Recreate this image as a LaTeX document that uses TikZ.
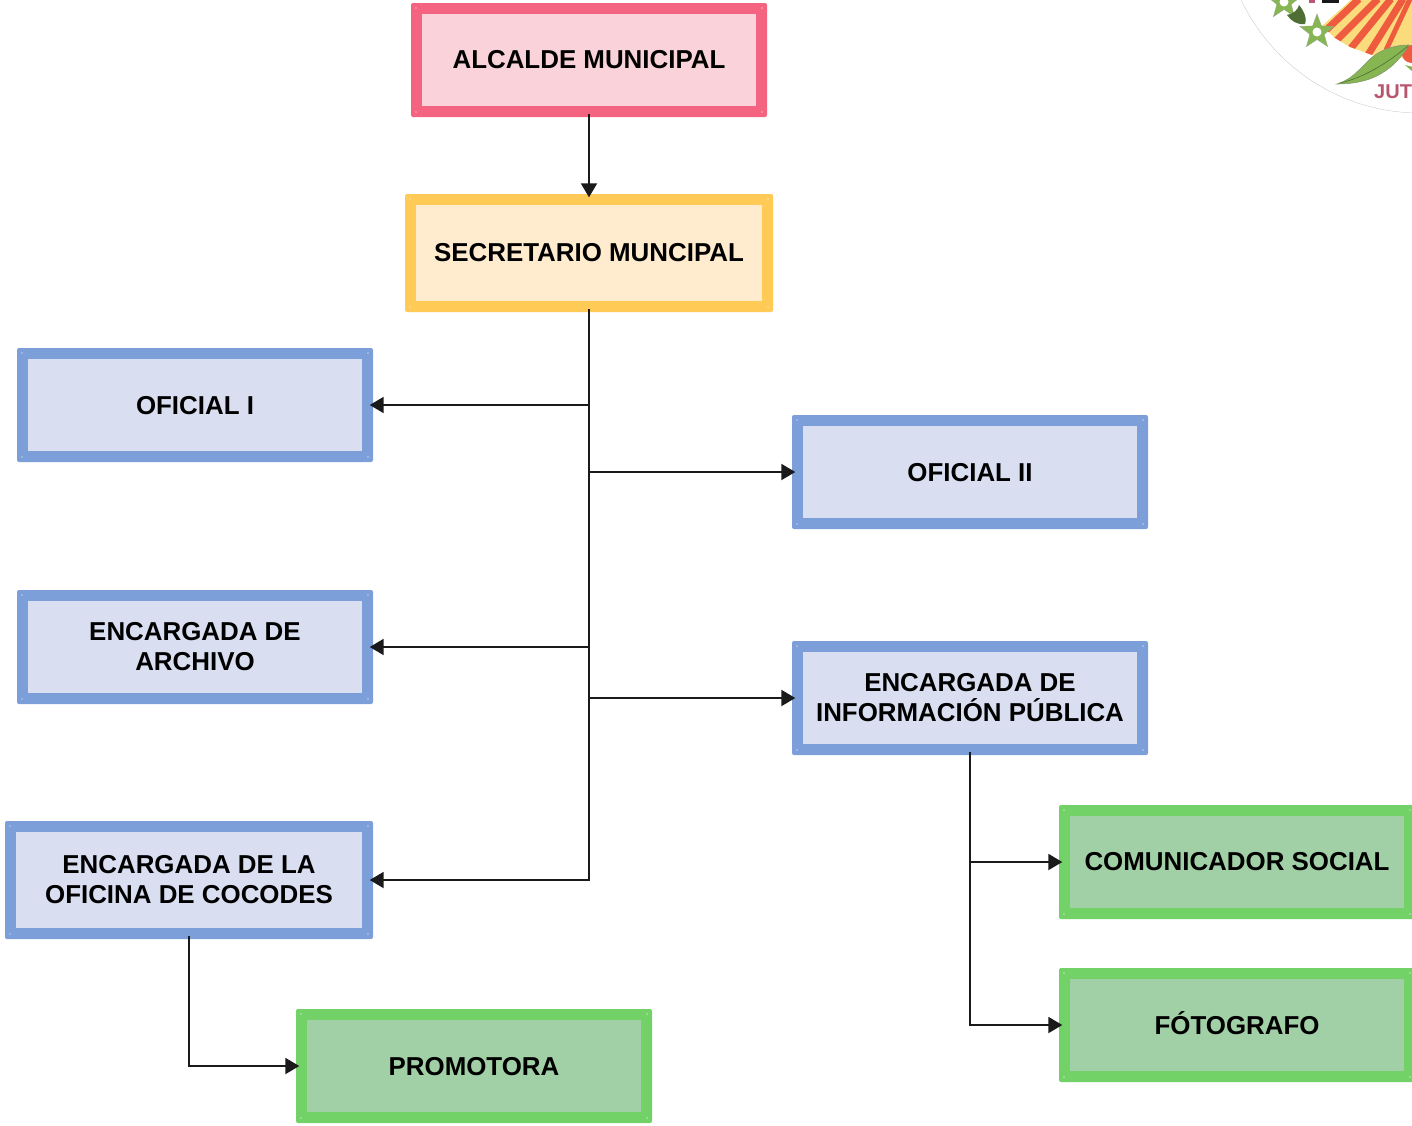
\documentclass[tikz,border=0pt]{standalone}
\usepackage{fontspec}
\setmainfont{Liberation Sans}
\usetikzlibrary{arrows.meta,calc}
\definecolor{pinkS}{HTML}{F4637F}\definecolor{pinkF}{HTML}{FAD2D9}
\definecolor{yelS}{HTML}{FFCA56}\definecolor{yelF}{HTML}{FFEBCE}
\definecolor{bluS}{HTML}{7C9FDA}\definecolor{bluF}{HTML}{D9DFF1}
\definecolor{greS}{HTML}{72D268}\definecolor{greF}{HTML}{A1CFA6}
\definecolor{ink}{HTML}{1A1A1A}
\definecolor{embR}{HTML}{EE5B3E}\definecolor{embY}{HTML}{FADC7C}
\definecolor{embG}{HTML}{86B552}\definecolor{embD}{HTML}{4E6E36}
\definecolor{embT}{HTML}{B8566F}
\tikzset{
  orgbox/.style n args={4}{rectangle,fill=#3,rounded corners=2pt,inner sep=0pt,
    minimum width=#1,minimum height=#2,
    font=\bfseries\fontsize{25.9}{30}\selectfont,align=center,text=black,
    path picture={
      \fill[sharp corners,#4] ($(path picture bounding box.south west)+(11pt,11pt)$)
        rectangle ($(path picture bounding box.north east)+(-11pt,-11pt)$);
      \fill[white] ($(path picture bounding box.south west)+(5pt,5pt)$) circle (0.7pt);
      \fill[white] ($(path picture bounding box.south east)+(-5pt,5pt)$) circle (0.7pt);
      \fill[white] ($(path picture bounding box.north west)+(5pt,-5pt)$) circle (0.7pt);
      \fill[white] ($(path picture bounding box.north east)+(-5pt,-5pt)$) circle (0.7pt);
    }},
  lowtext/.style={text height=19pt,text depth=0pt},
  link/.style={draw=ink,line width=2pt,-{Triangle[length=14pt,width=16pt]},shorten >=-3.5pt},
  linkfrom/.style={link,shorten <=-3pt}
}
\begin{document}
\begin{tikzpicture}[x=1pt,y=-1pt]
\useasboundingbox (0,0) rectangle (1412,1125);
% emblem fragment
\begin{scope}
\clip (0,0) rectangle (1412,1125);
\draw[gray!40,line width=0.4pt] (1420,-85) circle (198);
\begin{scope}
\clip (1322,26) -- (1352,-1) -- (1413,-1) -- (1413,56) -- (1400,58) -- (1372,55) -- (1350,47) -- (1335,38) -- cycle;
\fill[embY] (1300,-2) rectangle (1414,70);
\draw[embR,line width=7pt] (1322,34) -- (1359,-1);
\draw[embR,line width=7pt] (1332,45) -- (1378,-1);
\draw[embR,line width=7pt] (1347,53) -- (1391,-1);
\draw[embR,line width=7pt] (1366,58) -- (1403,-1);
\draw[embR,line width=5pt] (1386,50) -- (1410,-1);
\end{scope}
\fill[embR] (1412,54) ellipse (10 and 9);
\fill[embG,draw=embD!70,line width=.6pt] (1337,84) .. controls (1350,80) and (1357,72) .. (1366,63) .. controls (1374,54) and (1388,45) .. (1409,45) .. controls (1403,55) and (1394,66) .. (1382,73) .. controls (1368,82) and (1350,84) .. (1337,84) -- cycle;
\draw[embD,line width=.6pt] (1340,83) .. controls (1362,78) and (1385,65) .. (1408,46);
\fill[embG] (1405,65) -- (1413,67) -- (1413,72) -- cycle;
% stars
\foreach \sx/\sy in {1317/32,1284/2}{
  \begin{scope}[shift={(\sx,\sy)}]
  \fill[embG,draw=embD!60,line width=.4pt] (270:18) -- (306:7.5) -- (342:18) -- (18:7.5) -- (54:18) -- (90:7.5) -- (126:18) -- (162:7.5) -- (198:18) -- (234:7.5) -- cycle;
  \fill[white] (0,0) circle (4.5);
  \end{scope}}
\fill[embD] (1287,15) .. controls (1293,14) and (1298,10) .. (1299,5) .. controls (1305,12) and (1307,20) .. (1305,24) .. controls (1297,25) and (1291,21) .. (1287,15) -- cycle;
\fill[black!90] (1322,-1) rectangle (1339,3);
\fill[embT] (1309,-1) rectangle (1315,3);
\node[anchor=base west,inner sep=0pt,text=embT,font=\bfseries\fontsize{20}{22}\selectfont] (jut) at (1374,98) {JUT};
\end{scope}
% boxes
\node[orgbox={356pt}{114pt}{pinkS}{pinkF}] (alc) at (589,60) {ALCALDE MUNICIPAL};
\node[orgbox={368pt}{118pt}{yelS}{yelF}] (sec) at (589,253) {SECRETARIO MUNCIPAL};
\node[orgbox={356pt}{114pt}{bluS}{bluF},lowtext] (of1) at (195,405) {OFICIAL I};
\node[orgbox={356pt}{114pt}{bluS}{bluF},lowtext] (of2) at (970,472) {OFICIAL II};
\node[orgbox={356pt}{114pt}{bluS}{bluF}] (arc) at (195,647) {ENCARGADA DE\\ARCHIVO};
\node[orgbox={356pt}{114pt}{bluS}{bluF}] (inf) at (970,698) {ENCARGADA DE\\INFORMACIÓN PÚBLICA};
\node[orgbox={368pt}{118pt}{bluS}{bluF}] (coc) at (189,880) {ENCARGADA DE LA\\OFICINA DE COCODES};
\node[orgbox={356pt}{114pt}{greS}{greF},lowtext] (pro) at (474,1066) {PROMOTORA};
\node[orgbox={356pt}{114pt}{greS}{greF}] (com) at (1237,862) {COMUNICADOR SOCIAL};
\node[orgbox={356pt}{114pt}{greS}{greF},lowtext] (fot) at (1237,1025) {FÓTOGRAFO};
% connectors
\draw[linkfrom] (alc.south) -- (sec.north);
\draw[linkfrom] (sec.south) |- (coc.east);
\coordinate (j1) at (sec.south |- of1.east);
\coordinate (j2) at (sec.south |- of2.west);
\coordinate (j3) at (sec.south |- arc.east);
\coordinate (j4) at (sec.south |- inf.west);
\draw[link] (j1) -- (of1.east);
\draw[link] (j2) -- (of2.west);
\draw[link] (j3) -- (arc.east);
\draw[link] (j4) -- (inf.west);
\draw[linkfrom] (inf.south) |- (fot.west);
\coordinate (j5) at (inf.south |- com.west);
\draw[link] (j5) -- (com.west);
\draw[linkfrom] (coc.south) |- (pro.west);
\end{tikzpicture}
\end{document}
